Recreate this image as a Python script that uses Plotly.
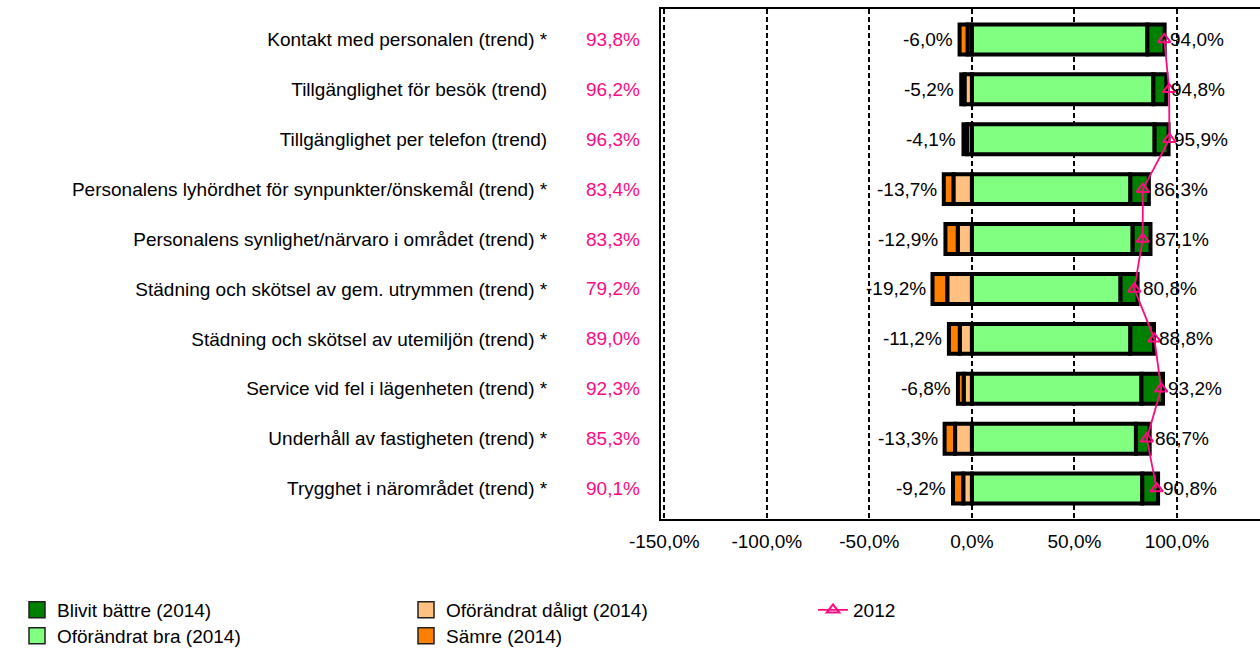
import plotly.graph_objects as go

# ---------------- data ----------------
categories = [
    "Kontakt med personalen (trend) *",
    "Tillgänglighet för besök (trend)",
    "Tillgänglighet per telefon (trend)",
    "Personalens lyhördhet för synpunkter/önskemål (trend) *",
    "Personalens synlighet/närvaro i området (trend) *",
    "Städning och skötsel av gem. utrymmen (trend) *",
    "Städning och skötsel av utemiljön (trend) *",
    "Service vid fel i lägenheten (trend) *",
    "Underhåll av fastigheten (trend) *",
    "Trygghet i närområdet (trend) *",
]
better_2014 = [8.4, 6.3, 6.8, 9.0, 8.7, 8.3, 11.5, 10.5, 6.7, 7.7]        # Blivit bättre
good_2014 = [85.6, 88.5, 89.1, 77.3, 78.4, 72.5, 77.3, 82.7, 80.0, 83.1]  # Oförändrat bra
bad_2014 = [2.1, 3.6, 2.3, 9.0, 6.9, 12.0, 5.9, 4.0, 8.2, 4.2]             # Oförändrat dåligt
worse_2014 = [3.9, 1.6, 1.8, 4.7, 6.0, 7.2, 5.3, 2.8, 5.1, 5.0]           # Sämre
value_2012 = [93.8, 96.2, 96.3, 83.4, 83.3, 79.2, 89.0, 92.3, 85.3, 90.1]
x_ticks = [-150, -100, -50, 0, 50, 100]

# ---------------- style ----------------
FONT = "Liberation Sans, Arial, sans-serif"
FS = 19
PINK = "#FF0A80"
LW = 4
BW = 0.6
W, H = 1260, 653
ML, MT, MB = 661, 9, 134
PW = W - ML


def fmt(v):
    return f"{v:.1f}".replace(".", ",") + "%"


pos_total = [round(a + b, 1) for a, b in zip(good_2014, better_2014)]
neg_total = [round(a + b, 1) for a, b in zip(bad_2014, worse_2014)]

series = [
    # name, values, sign, colour, legend
    ("Oförändrat bra (2014)", good_2014, 1, "#80FF80", "legend2"),
    ("Oförändrat dåligt (2014)", bad_2014, -1, "#FFC080", "legend3"),
    ("Blivit bättre (2014)", better_2014, 1, "#008000", "legend"),
    ("Sämre (2014)", worse_2014, -1, "#FF8000", "legend4"),
]

fig = go.Figure()
for name, vals, sign, col, lg in series:
    fig.add_bar(name=name, y=categories, x=[sign * v for v in vals], orientation="h",
                width=BW, marker=dict(color=col, line=dict(color="black", width=LW)),
                showlegend=False, legendgroup=name)
    # legend entry with a larger square swatch
    fig.add_scatter(name=name, x=[None], y=[None], mode="markers", legend=lg,
                    legendgroup=name,
                    marker=dict(symbol="square", size=17, color=col,
                                line=dict(color="#202020", width=1.5)))

fig.add_scatter(name="2012", y=categories, x=value_2012, mode="lines+markers",
                line=dict(color=PINK, width=1.8),
                marker=dict(symbol="triangle-up-open", size=11, color=PINK,
                            line=dict(color=PINK, width=2)),
                legend="legend5")

annotations = []
for cat, p, n, v in zip(categories, pos_total, neg_total, value_2012):
    annotations.append(dict(x=p, y=cat, xref="x", yref="y", text=fmt(p), showarrow=False,
                            xanchor="left", yanchor="middle", xshift=3,
                            font=dict(size=FS, color="black")))
    annotations.append(dict(x=-n, y=cat, xref="x", yref="y", text=fmt(-n), showarrow=False,
                            xanchor="right", yanchor="middle", xshift=-5,
                            font=dict(size=FS, color="black")))
    annotations.append(dict(x=(642 - ML) / PW, y=cat, xref="paper", yref="y", text=fmt(v),
                            showarrow=False, xanchor="right", yanchor="middle",
                            font=dict(size=FS, color=PINK)))


def leg(xpx, ypx):
    return dict(x=xpx / W, y=1 - ypx / H, xref="container", yref="container",
                xanchor="left", yanchor="middle", bgcolor="rgba(0,0,0,0)",
                borderwidth=0, font=dict(size=FS, family=FONT, color="black"))


fig.update_layout(
    width=W, height=H,
    margin=dict(l=ML, r=0, t=MT, b=MB, autoexpand=False),
    barmode="relative",
    plot_bgcolor="white", paper_bgcolor="white",
    font=dict(family=FONT, size=FS, color="black"),
    showlegend=True,
    legend=leg(17, 610),
    legend2=leg(17, 636),
    legend3=leg(406, 610),
    legend4=leg(406, 636),
    legend5=leg(813, 610),
    annotations=annotations,
    xaxis=dict(
        range=[-151.6, 140.5], tickvals=x_ticks, ticktext=[fmt(v) for v in x_ticks],
        showgrid=True, gridcolor="black", gridwidth=1.5, griddash="5px,3px",
        zeroline=False, showline=True, linecolor="black", linewidth=2, mirror=True,
        ticks="", automargin=False, fixedrange=True, ticklabelstandoff=4,
    ),
    yaxis=dict(
        type="category", range=[9.61, -0.61], showgrid=False, zeroline=False,
        showline=True, linecolor="black", linewidth=2, mirror=False, ticks="",
        ticklabelstandoff=108, automargin=False, fixedrange=True,
    ),
)

fig.write_html(
    "out.html",
    config={"displayModeBar": False},
    post_script="document.body.style.margin='0';document.body.style.overflow='hidden';",
)
